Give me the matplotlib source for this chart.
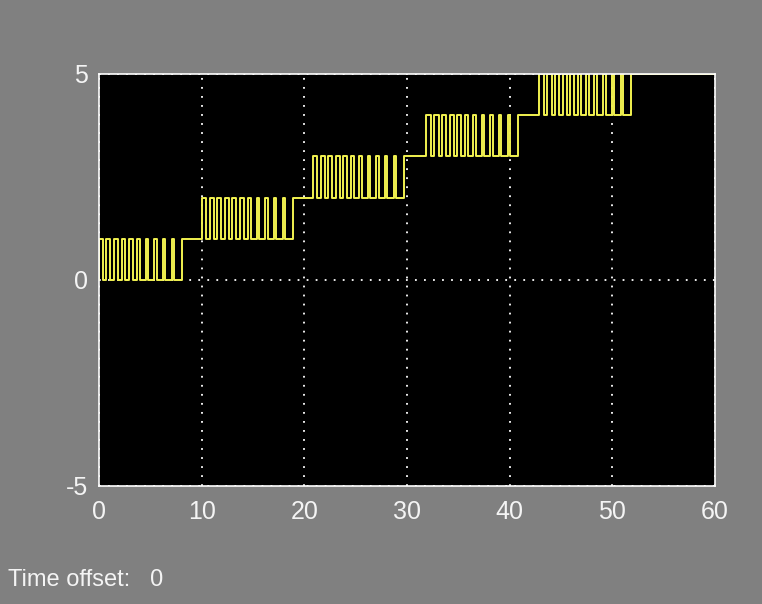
import matplotlib
matplotlib.use('agg')
import matplotlib.pyplot as plt
import numpy as np

plt.rcParams['axes.unicode_minus'] = False

# start time of each pulse burst and its lower level
burst_start = [-0.8, 10.0, 20.8, 31.9, 42.9]
burst_low = [0, 1, 2, 3, 4]

# toggle times inside one burst (relative to its start); the burst opens high
# and after the last toggle the signal stays high until the next burst
toggles = [0.45, 0.78, 1.20, 1.50, 1.92, 2.28, 2.64, 3.00, 3.36, 3.76,
           4.08, 4.54, 4.84, 5.36, 5.62, 6.18, 6.44, 7.04, 7.26, 7.92,
           8.14, 8.92]

t_end = 60.0

# build the stepped trace
t = [-2.0]
y = [0.0]
for start, low in zip(burst_start, burst_low):
    t.append(start)
    y.append(low + 1)
    state = 1
    for dt in toggles:
        state = 1 - state
        t.append(start + dt)
        y.append(low + state)
t.append(t_end)
y.append(y[-1])

fig = plt.figure(figsize=(7.62, 6.04), dpi=100, facecolor='#808080')
ax = fig.add_axes([0.1299, 0.1954, 0.8084, 0.6821], facecolor='black')

ax.plot(t, y, drawstyle='steps-post', color='#f2f250', lw=1.4)

ax.set_xlim(0, 60)
ax.set_ylim(-5, 5)
ax.set_xticks([0, 10, 20, 30, 40, 50, 60])
ax.set_yticks([-5, 0, 5])
ax.grid(True, color='white', linestyle=(0, (1, 4)), lw=1.3)

for side in ax.spines.values():
    side.set_color('white')
    side.set_linewidth(1.2)

ax.tick_params(length=0, colors='#f4f4f4', labelsize=18)
ax.tick_params(axis='x', pad=10)
ax.tick_params(axis='y', pad=8)
for lbl in ax.get_xticklabels() + ax.get_yticklabels():
    lbl.set_family('Liberation Sans')

fig.text(0.011, 0.030, 'Time offset:   0', color='#f4f4f4', fontsize=17,
         family='Liberation Sans')

plt.savefig('out.png', facecolor=fig.get_facecolor())
